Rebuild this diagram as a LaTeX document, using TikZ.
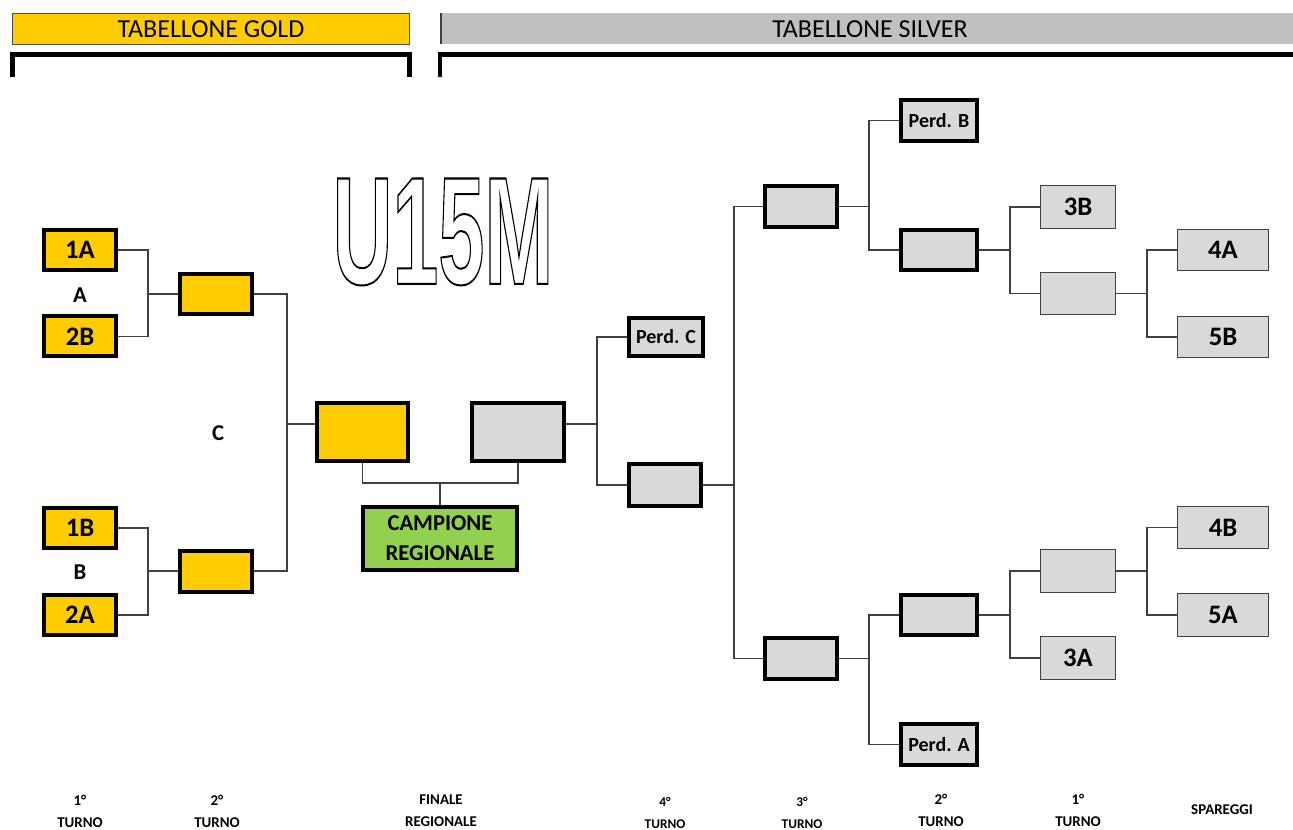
\documentclass[tikz,border=0pt]{standalone}
\usepackage{fontspec}
\usepackage{graphicx}
\setmainfont{Carlito}
\newfontfamily\bigfont{Liberation Sans}
\definecolor{goldc}{HTML}{FFCC00}
\definecolor{silvc}{HTML}{D9D9D9}
\definecolor{silvh}{HTML}{C0C0C0}
\definecolor{greenc}{HTML}{92D050}
\definecolor{linec}{HTML}{404040}
\newlength{\upx}\setlength{\upx}{0.75pt}
\newcommand{\outlinetext}[1]{\special{pdf:literal direct 1 Tr 1.5 w}#1\special{pdf:literal direct 0 Tr}}
\begin{document}
\begin{tikzpicture}[x=0.75pt,y=-0.75pt,
  thickbox/.style={draw=black,line width=3pt,inner sep=0pt,font=\bfseries\fontsize{20}{22}\selectfont},
  goldbox/.style={thickbox,fill=goldc},
  silvbox/.style={thickbox,fill=silvc},
  thinbox/.style={draw=linec,line width=1.1pt,fill=silvc,inner sep=0pt,font=\bfseries\fontsize{20}{22}\selectfont},
  perdfont/.style={font=\bfseries\fontsize{15}{16}\selectfont},
  conn/.style={draw=linec,line width=0.9pt},
  lab/.style={font=\bfseries\fontsize{11.2}{16.5}\selectfont,align=center,inner sep=0pt},
  labs/.style={font=\bfseries\fontsize{10}{16.5}\selectfont,align=center,inner sep=0pt},
  letter/.style={font=\bfseries\fontsize{17}{18}\selectfont,inner sep=0pt},
  bracket/.style={line width=3.4pt,draw=black}
]
\useasboundingbox (0,0) rectangle (1293,830);

% headers
\node[draw=black!70,line width=0.8pt,fill=goldc,minimum width=397\upx,minimum height=31\upx,inner sep=0pt,font=\fontsize{19.5}{22}\selectfont] (hgold) at (211,29) {TABELLONE GOLD};
\fill[silvh] (441,13.5) rectangle (1293,44.5);
\draw[black!75,line width=1.2pt] (441,13.5) -- (441,44.5);
\node[inner sep=0pt,font=\fontsize{19.5}{22}\selectfont] (hsilv) at (870,29) {TABELLONE SILVER};

% brackets
\draw[bracket] (12.5,77) -- (12.5,54.5) -- (409.5,54.5) -- (409.5,77);
\draw[bracket] (440,77) -- (440,54.5) -- (1294,54.5);

% title
\node[inner sep=0pt] (title) at (443,232) {\scalebox{0.54}[1]{\bigfont\bfseries\fontsize{115}{120}\selectfont\outlinetext{U15M}}};

% gold boxes
\node[goldbox,minimum width=72\upx,minimum height=40\upx] (g1A) at (80,250) {1A};
\node[goldbox,minimum width=72\upx,minimum height=40\upx] (g2B) at (80,336.5) {2B};
\node[goldbox,minimum width=72\upx,minimum height=40\upx] (g1B) at (80,528) {1B};
\node[goldbox,minimum width=72\upx,minimum height=40\upx] (g2A) at (80,615) {2A};
\node[goldbox,minimum width=72\upx,minimum height=40\upx] (g2top) at (216,294) {};
\node[goldbox,minimum width=72\upx,minimum height=41\upx] (g2bot) at (216,571) {};
\node[goldbox,minimum width=91\upx,minimum height=58\upx] (gfin) at (362.5,432) {};
\node[letter] (lA) at (80,295) {A};
\node[letter] (lB) at (80,572) {B};
\node[letter] (lC) at (218,433) {C};

% finals
\node[silvbox,minimum width=92\upx,minimum height=58\upx] (sfin) at (518,432) {};
\node[thickbox,fill=greenc,minimum width=154\upx,minimum height=63\upx,align=center,font=\bfseries\fontsize{17}{22.5}\selectfont] (camp) at (440,538.5) {CAMPIONE\\REGIONALE};

% silver thick boxes
\node[silvbox,perdfont,minimum width=74\upx,minimum height=38\upx] (perdC) at (666,337) {Perd. C};
\node[silvbox,minimum width=72\upx,minimum height=42\upx] (s4) at (665,485) {};
\node[silvbox,minimum width=72\upx,minimum height=41\upx] (s3top) at (801,206.5) {};
\node[silvbox,minimum width=72\upx,minimum height=41\upx] (s3bot) at (801,658.5) {};
\node[silvbox,perdfont,minimum width=76\upx,minimum height=41\upx] (perdB) at (939,120.5) {Perd. B};
\node[silvbox,minimum width=76\upx,minimum height=40\upx] (s2top) at (939,250) {};
\node[silvbox,minimum width=76\upx,minimum height=40\upx] (s2bot) at (939,615) {};
\node[silvbox,perdfont,minimum width=76\upx,minimum height=41\upx] (perdA) at (939,744.5) {Perd. A};

% silver thin boxes
\node[thinbox,minimum width=75\upx,minimum height=43\upx] (b3B) at (1078,207) {3B};
\node[thinbox,minimum width=75\upx,minimum height=42\upx] (s1top) at (1078,293.5) {};
\node[thinbox,minimum width=75\upx,minimum height=43\upx] (s1bot) at (1078,571) {};
\node[thinbox,minimum width=75\upx,minimum height=43\upx] (b3A) at (1078,658) {3A};
\node[thinbox,minimum width=91\upx,minimum height=41\upx] (b4A) at (1223,250) {4A};
\node[thinbox,minimum width=91\upx,minimum height=41\upx] (b5B) at (1223,337) {5B};
\node[thinbox,minimum width=91\upx,minimum height=42\upx] (b4B) at (1223,527.5) {4B};
\node[thinbox,minimum width=91\upx,minimum height=43\upx] (b5A) at (1223,615) {5A};

% junction coordinates
\coordinate (jA) at (148,0);
\coordinate (jG) at (287,0);
\coordinate (jF) at (0,483);
\coordinate (jC) at (597,0);
\coordinate (jS) at (734,0);
\coordinate (jT) at (869,0);
\coordinate (jV) at (1010,0);
\coordinate (jX) at (1147,0);

% gold connectors
\draw[conn] (g1A.east) -- (g1A.east -| jA) |- (g2B.east);
\draw[conn] (g2top.west) -- (g2top.west -| jA);
\draw[conn] (g1B.east) -- (g1B.east -| jA) |- (g2A.east);
\draw[conn] (g2bot.west) -- (g2bot.west -| jA);
\draw[conn] (g2top.east) -- (g2top.east -| jG) |- (g2bot.east);
\draw[conn] ([yshift=6pt]gfin.west) -- ([yshift=6pt]gfin.west -| jG);

% final connectors
\draw[conn] (gfin.south) -- (gfin.south |- jF) -- (sfin.south |- jF) -- (sfin.south);
\draw[conn] (camp.north) -- (camp.north |- jF);

% silver connectors
\draw[conn] (perdC.west) -- (perdC.west -| jC) |- (s4.west);
\draw[conn] ([yshift=6pt]sfin.east) -- ([yshift=6pt]sfin.east -| jC);
\draw[conn] (s3top.west) -- (s3top.west -| jS) |- (s3bot.west);
\draw[conn] (s4.east) -- (s4.east -| jS);
\draw[conn] (perdB.west) -- (perdB.west -| jT) |- (s2top.west);
\draw[conn] (s3top.east) -- (s3top.east -| jT);
\draw[conn] (s2bot.west) -- (s2bot.west -| jT) |- (perdA.west);
\draw[conn] (s3bot.east) -- (s3bot.east -| jT);
\draw[conn] (b3B.west) -- (b3B.west -| jV) |- (s1top.west);
\draw[conn] (s2top.east) -- (s2top.east -| jV);
\draw[conn] (s1bot.west) -- (s1bot.west -| jV) |- (b3A.west);
\draw[conn] (s2bot.east) -- (s2bot.east -| jV);
\draw[conn] (b4A.west) -- (b4A.west -| jX) |- (b5B.west);
\draw[conn] (s1top.east) -- (s1top.east -| jX);
\draw[conn] (b4B.west) -- (b4B.west -| jX) |- (b5A.west);
\draw[conn] (s1bot.east) -- (s1bot.east -| jX);

% bottom labels
\node[lab] (t1) at (80,811) {1°\\TURNO};
\node[lab] (t2) at (217,811) {2°\\TURNO};
\node[lab] (tf) at (441,811) {FINALE\\REGIONALE};
\node[labs] (t4) at (665,813) {4°\\TURNO};
\node[labs] (t3) at (802,813) {3°\\TURNO};
\node[lab] (t2s) at (941,810) {2°\\TURNO};
\node[lab] (t1s) at (1078,810) {1°\\TURNO};
\node[lab] (tsp) at (1222,810) {SPAREGGI};
\end{tikzpicture}
\end{document}
